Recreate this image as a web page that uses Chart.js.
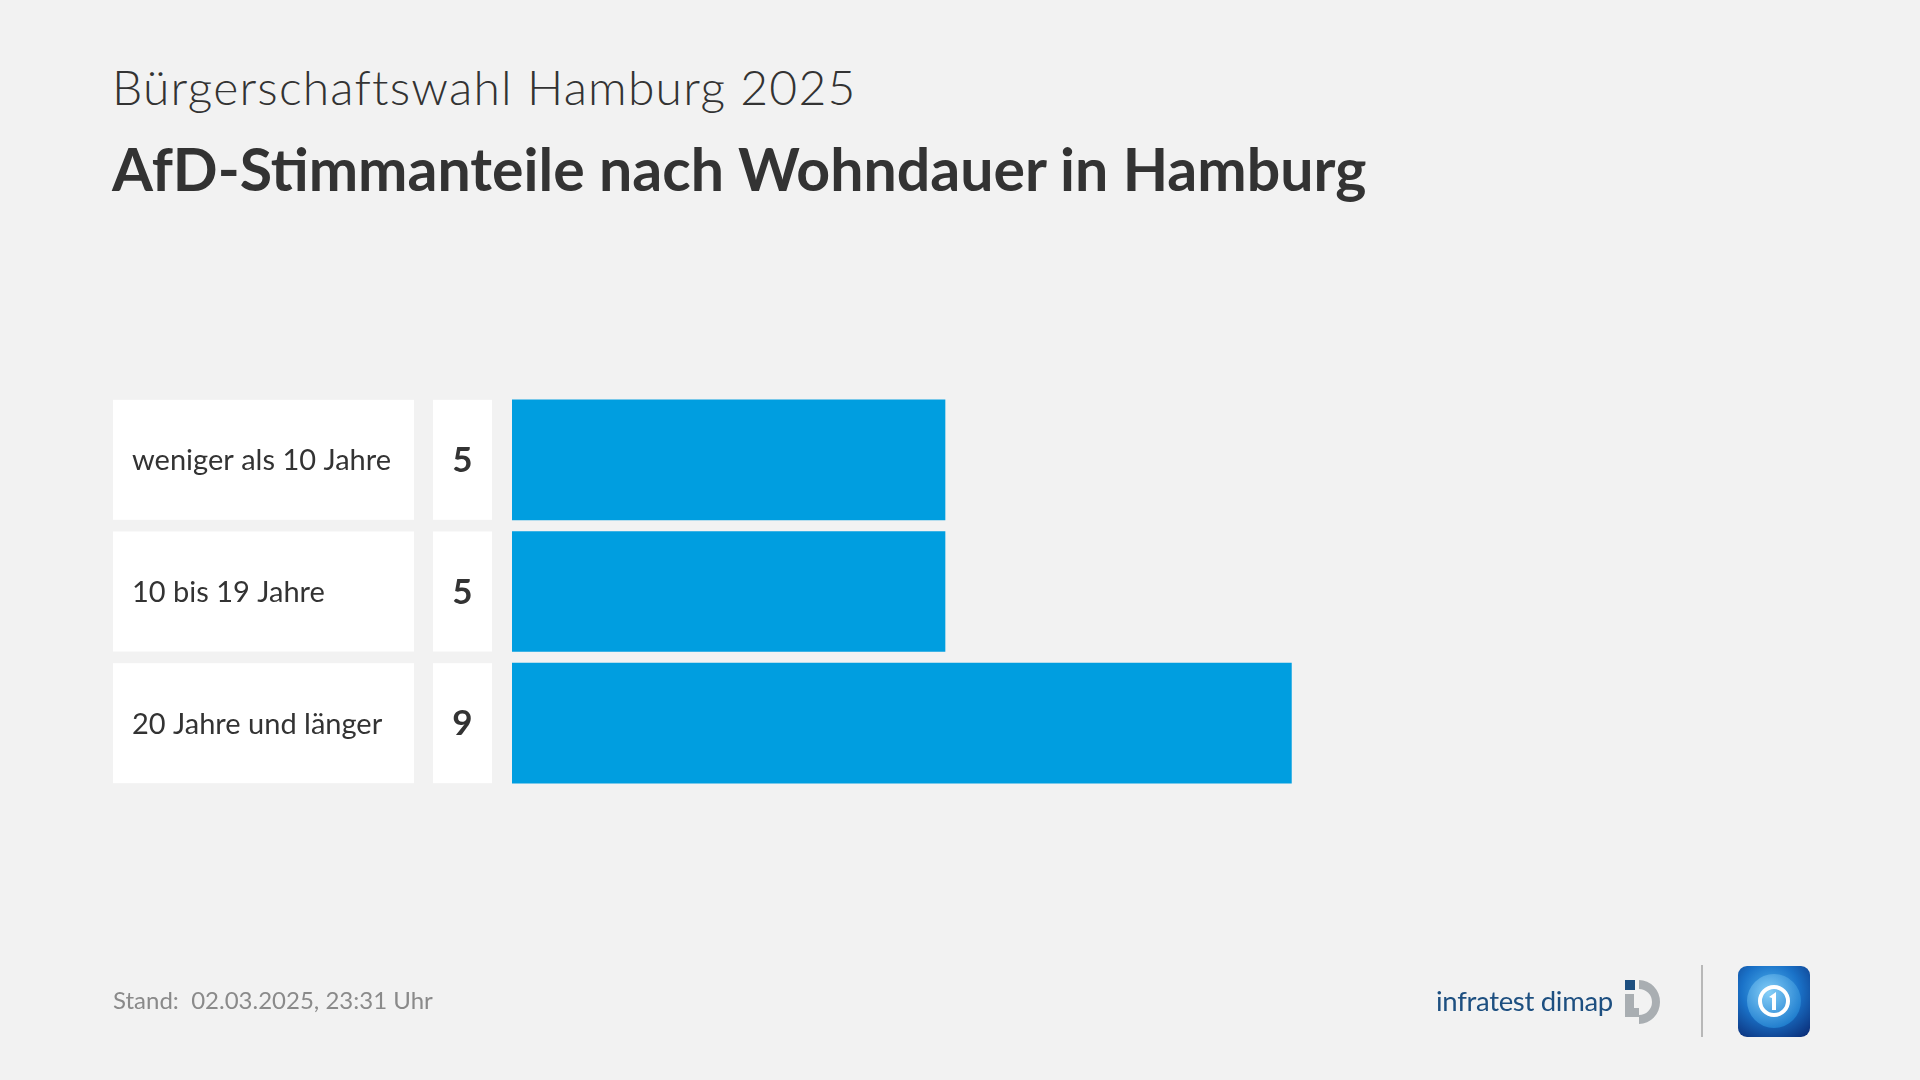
<!DOCTYPE html>
<html lang="de">
<head>
<meta charset="utf-8">
<script src="https://cdn.jsdelivr.net/npm/chart.js@4"></script>
<style>
  html, body { margin:0; padding:0; background:#f2f2f2; width:1920px; height:1080px; overflow:hidden; }
  body { position:relative; font-family: Lato, "Noto Sans", sans-serif; }
  #chart { position:absolute; left:0; top:0; }
  .t1 { position:absolute; left:112px; top:58px; font-size:48px; font-weight:300; color:#333; white-space:nowrap; letter-spacing:1.2px; }
  .t2 { position:absolute; left:112px; top:133px; font-size:59px; font-weight:700; color:#333; white-space:nowrap; }
  .foot { position:absolute; left:113px; top:985px; font-size:24px; color:#8a8a8a; white-space:nowrap; }
  .infra { position:absolute; left:1436px; top:984px; font-size:27.5px; color:#1d4f80; white-space:nowrap; letter-spacing:-0.3px; }
  .ico { position:absolute; left:1624px; top:978px; }
  .div { position:absolute; left:1701px; top:965px; width:2px; height:72px; background:#b8b8b8; }
  .ard { position:absolute; left:1738px; top:966px; }
</style>
</head>
<body>
<div class="t1">Bürgerschaftswahl Hamburg 2025</div>
<div class="t2">AfD-Stimmanteile nach Wohndauer in Hamburg</div>
<canvas id="chart" width="1920" height="1080"></canvas>
<div class="foot">Stand:&nbsp; 02.03.2025, 23:31 Uhr</div>
<div class="infra">infratest dimap</div>
<svg class="ico" width="46" height="48" viewBox="0 0 46 48">
  <rect x="1" y="2" width="10" height="10" fill="#1d4f80"/>
  <rect x="1" y="16" width="9" height="16" fill="#a9aeb2"/>
  <path d="M15 2 A 21 22 0 1 1 15 46 L15 37 A 13 13 0 1 0 15 11 Z" fill="#a9aeb2"/>
  <rect x="1" y="30" width="14" height="9" fill="#a9aeb2"/>
</svg>
<div class="div"></div>
<svg class="ard" width="72" height="71" viewBox="0 0 72 71">
  <defs>
    <radialGradient id="g" cx="0.45" cy="0.35" r="0.8">
      <stop offset="0" stop-color="#4fb3ee"/>
      <stop offset="0.5" stop-color="#1a72c8"/>
      <stop offset="1" stop-color="#0b2f7a"/>
    </radialGradient>
    <radialGradient id="g2" cx="0.4" cy="0.35" r="0.7">
      <stop offset="0" stop-color="#8fd4fa"/>
      <stop offset="1" stop-color="#1d7fd0"/>
    </radialGradient>
  </defs>
  <rect x="0" y="0" width="72" height="71" rx="9" fill="url(#g)"/>
  <circle cx="36" cy="35" r="27" fill="url(#g2)" opacity="0.85"/>
  <circle cx="36" cy="35" r="14" fill="none" stroke="#fff" stroke-width="4"/>
  <path d="M31 31 L38 26 L38 44 L34 44 L34 32 Z" fill="#fff"/>
</svg>
<script>
const categories = ["weniger als 10 Jahre", "10 bis 19 Jahre", "20 Jahre und länger"];
const values = [5, 5, 9];
const valueLabels = ["5", "5", "9"];

const boxesPlugin = {
  id: 'boxes',
  afterDatasetsDraw(chart) {
    const ctx = chart.ctx;
    const meta = chart.getDatasetMeta(0);
    ctx.save();
    meta.data.forEach((el, i) => {
      const h = el.height;
      const top = el.y - h / 2;
      ctx.fillStyle = '#ffffff';
      ctx.fillRect(113, top, 301, h);
      ctx.fillRect(433, top, 59, h);
      ctx.fillStyle = '#333333';
      ctx.textBaseline = 'middle';
      ctx.textAlign = 'left';
      ctx.font = '400 29px Lato, "Noto Sans", sans-serif';
      ctx.fillText(categories[i], 132, el.y + 1);
      ctx.textAlign = 'center';
      ctx.font = '700 35px Lato, "Noto Sans", sans-serif';
      ctx.fillText(valueLabels[i], 462.5, el.y + 1);
    });
    ctx.restore();
  }
};

new Chart(document.getElementById('chart'), {
  type: 'bar',
  data: {
    labels: categories,
    datasets: [{
      data: values,
      backgroundColor: '#009ee0',
      borderWidth: 0,
      barThickness: 120
    }]
  },
  options: {
    indexAxis: 'y',
    responsive: false,
    animation: false,
    events: [],
    layout: { padding: { left: 512, right: 542, top: 394, bottom: 291 } },
    plugins: { legend: { display: false }, tooltip: { enabled: false } },
    scales: {
      x: { display: false, min: 0, max: 10 },
      y: { display: false }
    }
  },
  plugins: [boxesPlugin]
});
</script>
</body>
</html>
